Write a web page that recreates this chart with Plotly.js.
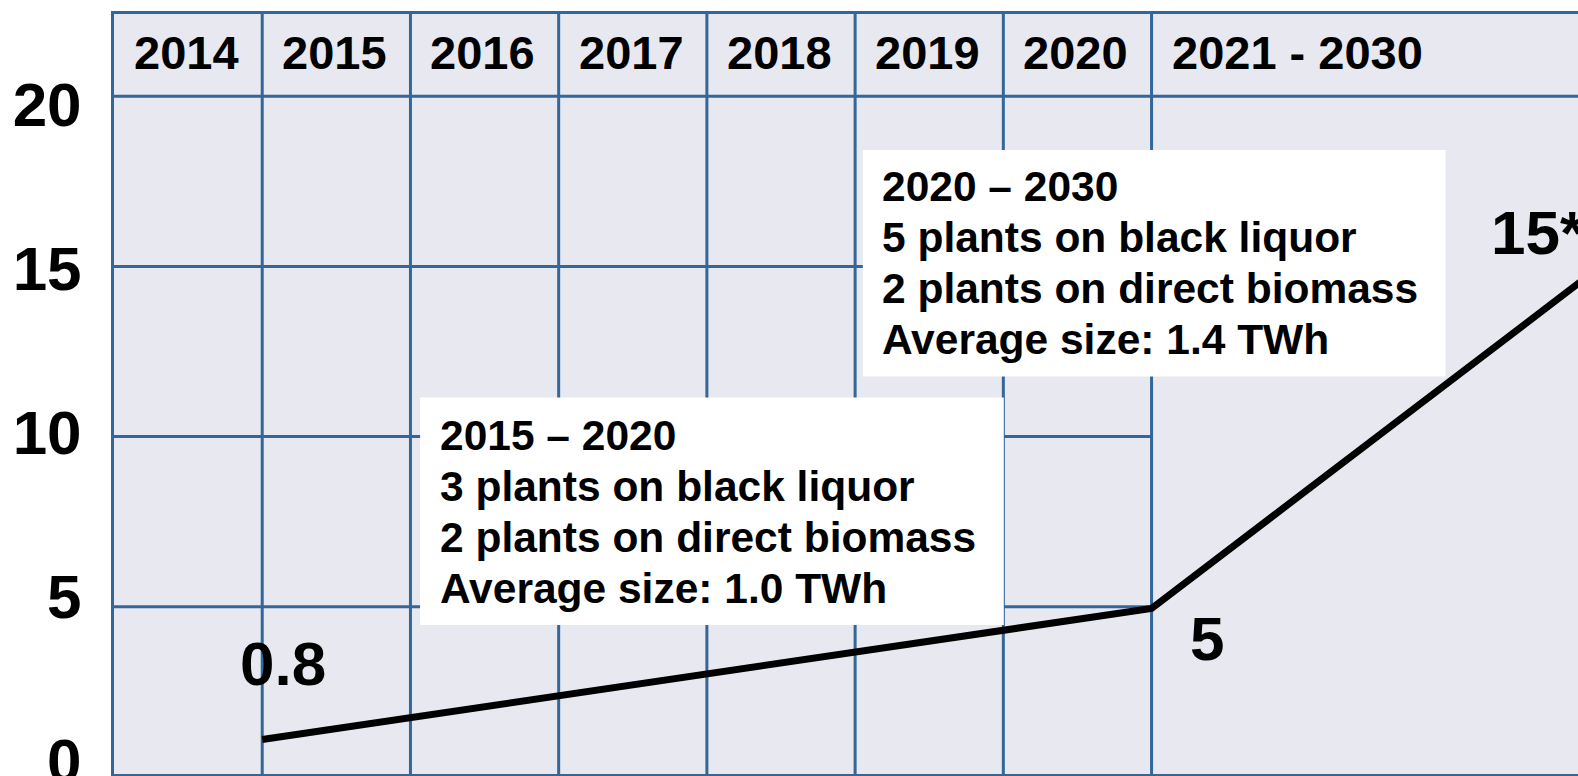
<!DOCTYPE html>
<html>
<head>
<meta charset="utf-8">
<script src="https://cdn.plot.ly/plotly-3.0.1.min.js"></script>
<style>
  html, body { margin: 0; padding: 0; background: #ffffff; }
  #chart { width: 1578px; height: 776px; }
</style>
</head>
<body>
<div id="chart"></div>
<script>
// ---- data ----
const columnYears = [2014, 2015, 2016, 2017, 2018, 2019, 2020, 2021];
const headerLabels = ['2014', '2015', '2016', '2017', '2018', '2019', '2020', '2021 - 2030'];
const yTickValues = [0, 5, 10, 15, 20];
const yTickLabels = ['0', '5', '10', '15', '20'];
const lineX = [2014.5, 2020.5, 2023.53];
const lineY = [1.1, 4.95, 15];
const valueLabels = ['0.8', '5', '15*'];
const box1Lines = ['2015 \u2013 2020', '3 plants on black liquor', '2 plants on direct biomass', 'Average size: 1.0 TWh'];
const box2Lines = ['2020 \u2013 2030', '5 plants on black liquor', '2 plants on direct biomass', 'Average size: 1.4 TWh'];

// ---- styling ----
const GRID = '#336699';
const FONT = 'Liberation Sans, Arial, sans-serif';
const boldFont = (size) => ({ family: FONT, size: size, color: '#000000', weight: 'bold' });

const traces = [
  {
    x: lineX, y: lineY, type: 'scatter', mode: 'lines',
    line: { color: '#000000', width: 7 },
    hoverinfo: 'skip', showlegend: false
  },
  {
    x: [lineX[0]], y: [null], yaxis: 'y2', type: 'scatter', mode: 'markers',
    marker: { opacity: 0 }, hoverinfo: 'skip', showlegend: false
  }
];

const shapes = [];
// horizontal grid lines (only across the yearly columns)
yTickValues.filter(v => v > 0 && v < 20).forEach(v => {
  shapes.push({ type: 'line', xref: 'x', yref: 'y', x0: columnYears[0] - 0.5, x1: columnYears[columnYears.length - 1] - 0.5,
    y0: v, y1: v, line: { color: GRID, width: 3 }, layer: 'below' });
});
// header separator (value 20) across full width
shapes.push({ type: 'line', xref: 'paper', yref: 'y', x0: 0, x1: 1, y0: 20, y1: 20,
  line: { color: GRID, width: 3 }, layer: 'below' });
// vertical column separators
columnYears.slice(1).forEach(yr => {
  shapes.push({ type: 'line', xref: 'x', yref: 'paper', x0: yr - 0.5, x1: yr - 0.5, y0: 0, y1: 1,
    line: { color: GRID, width: 3 }, layer: 'below' });
});
// white text boxes
shapes.push({ type: 'rect', xref: 'x', yref: 'y', x0: 2015.565, x1: 2019.503, y0: 4.467, y1: 11.149,
  fillcolor: '#ffffff', line: { width: 0 }, layer: 'below' });
shapes.push({ type: 'rect', xref: 'x', yref: 'y', x0: 2018.552, x1: 2022.483, y0: 11.769, y1: 18.42,
  fillcolor: '#ffffff', line: { width: 0 }, layer: 'below' });

const annotations = [];
// column headers
headerLabels.forEach((t, i) => {
  annotations.push({ x: columnYears[i] - 0.5, y: 21.3, xref: 'x', yref: 'y', text: t, showarrow: false,
    xanchor: 'left', yanchor: 'middle', xshift: 18, font: boldFont(47) });
});
// box texts
const lineStep = 1.493;
box1Lines.forEach((t, i) => {
  annotations.push({ x: 2015.684, y: 10.027 - i * lineStep, xref: 'x', yref: 'y', text: t, showarrow: false,
    xanchor: 'left', yanchor: 'middle', font: boldFont(42.5) });
});
box2Lines.forEach((t, i) => {
  annotations.push({ x: 2018.67, y: 17.335 - i * lineStep, xref: 'x', yref: 'y', text: t, showarrow: false,
    xanchor: 'left', yanchor: 'middle', font: boldFont(42.5) });
});
// value labels
annotations.push({ x: lineX[0], y: lineY[0], xref: 'x', yref: 'y', text: valueLabels[0], showarrow: false,
  xanchor: 'center', yanchor: 'middle', xshift: 21, yshift: 76, font: boldFont(62) });
annotations.push({ x: lineX[1], y: lineY[1], xref: 'x', yref: 'y', text: valueLabels[1], showarrow: false,
  xanchor: 'center', yanchor: 'middle', xshift: 55, yshift: -30, font: boldFont(62) });
annotations.push({ x: 1, y: lineY[2], xref: 'paper', yref: 'y', text: valueLabels[2], showarrow: false,
  xanchor: 'left', yanchor: 'middle', xshift: -89, yshift: 34, font: boldFont(62) });

const layout = {
  width: 1578, height: 776,
  margin: { l: 114, r: 0, t: 14, b: 2, pad: 0 },
  paper_bgcolor: '#ffffff',
  plot_bgcolor: '#E8E9F0',
  showlegend: false,
  xaxis: {
    range: [2013.5, 2023.377], showgrid: false, zeroline: false, showticklabels: false, ticks: '',
    showline: true, mirror: true, linecolor: GRID, linewidth: 3, fixedrange: true
  },
  yaxis: {
    range: [0.085, 22.418], showgrid: false, zeroline: false, showticklabels: false, ticks: '',
    showline: true, mirror: false, linecolor: GRID, linewidth: 3, fixedrange: true
  },
  yaxis2: {
    overlaying: 'y', side: 'left', range: [-0.42, 22.77], showgrid: false, zeroline: false,
    showline: false, tickvals: yTickValues, ticktext: yTickLabels, ticklabeloverflow: 'allow',
    ticks: 'outside', ticklen: 19, tickcolor: 'rgba(0,0,0,0)', tickfont: boldFont(62), fixedrange: true
  },
  shapes: shapes,
  annotations: annotations
};

Plotly.newPlot('chart', traces, layout, { displayModeBar: false, staticPlot: true });
</script>
</body>
</html>
